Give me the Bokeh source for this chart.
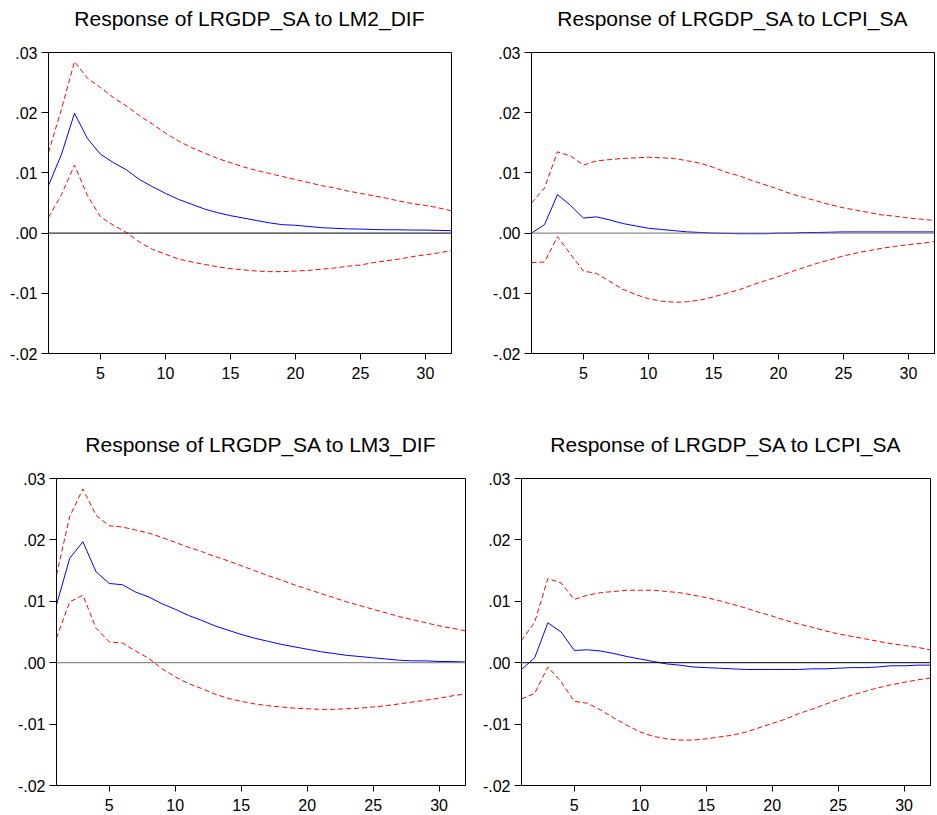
from bokeh.plotting import figure
from bokeh.layouts import column, row
from bokeh.models import FixedTicker, Span, Range1d, Title
from bokeh.embed import file_html
from bokeh.resources import INLINE

periods = list(range(1, 33))
x_start, x_end = 1, 32
y_start, y_end = -0.02, 0.03

titles = ["Response of LRGDP_SA to LM2_DIF", "Response of LRGDP_SA to LCPI_SA",
          "Response of LRGDP_SA to LM3_DIF", "Response of LRGDP_SA to LCPI_SA"]

y_ticks = [-0.02, -0.01, 0.0, 0.01, 0.02, 0.03]
y_tick_labels = ["-.02", "-.01", ".00", ".01", ".02", ".03"]
x_ticks = [5, 10, 15, 20, 25, 30]

# Panel 1: LM2_DIF
m2_resp = [0.0079, 0.0131, 0.0199, 0.0157, 0.0131, 0.0117, 0.0105, 0.0089, 0.0077, 0.0066,
           0.0056, 0.0048, 0.0040, 0.0034, 0.0029, 0.0025, 0.0021, 0.0017, 0.0014, 0.0013,
           0.0011, 0.0009, 0.0008, 0.0007, 0.00067, 0.0006, 0.00055, 0.00055, 0.0005, 0.0005,
           0.00045, 0.0004]
m2_upper = [0.0134, 0.0206, 0.0285, 0.0257, 0.0242, 0.0225, 0.0211, 0.0195, 0.0181, 0.0166,
            0.0153, 0.0142, 0.0133, 0.0124, 0.0117, 0.0110, 0.0104, 0.0099, 0.0094, 0.0089,
            0.0084, 0.0079, 0.0075, 0.0070, 0.0066, 0.0062, 0.0058, 0.0053, 0.0049, 0.0046,
            0.0042, 0.0037]
m2_lower = [0.0026, 0.0064, 0.0113, 0.0062, 0.0027, 0.0013, 0.0001, -0.0015, -0.0027, -0.0035,
            -0.0043, -0.0048, -0.0052, -0.0056, -0.0059, -0.0061, -0.0063, -0.0064, -0.0064, -0.0063,
            -0.0062, -0.0060, -0.0058, -0.0055, -0.0053, -0.0049, -0.0046, -0.0043, -0.0039, -0.0036,
            -0.0033, -0.0029]

# Panel 2: LCPI_SA (top)
cpi1_resp = [0.0000, 0.0014, 0.0064, 0.0046, 0.0025, 0.0027, 0.0022, 0.0016, 0.0012, 0.0008,
             0.0006, 0.0004, 0.0002, 0.0001, 0.0000, -0.00005, -0.0001, -0.0001, -0.0001, 0.0000,
             0.0000, 0.0001, 0.0001, 0.00015, 0.0002, 0.0002, 0.0002, 0.0002, 0.0002, 0.0002,
             0.0002, 0.0002]
cpi1_upper = [0.0050, 0.0075, 0.0135, 0.0128, 0.0113, 0.0120, 0.0122, 0.0124, 0.0125, 0.0126,
              0.0125, 0.0124, 0.0120, 0.0116, 0.0109, 0.0101, 0.0095, 0.0087, 0.0080, 0.0073,
              0.0065, 0.0059, 0.0053, 0.0047, 0.0042, 0.0038, 0.0034, 0.0030, 0.0028, 0.0025,
              0.0023, 0.0021]
cpi1_lower = [-0.0049, -0.0048, -0.0006, -0.0035, -0.0063, -0.0067, -0.0080, -0.0093, -0.0102, -0.0109,
              -0.0113, -0.0115, -0.0114, -0.0111, -0.0106, -0.0100, -0.0094, -0.0086, -0.0079, -0.0072,
              -0.0064, -0.0057, -0.0050, -0.0044, -0.0038, -0.0033, -0.0029, -0.0025, -0.0022, -0.0019,
              -0.0017, -0.0014]

# Panel 3: LM3_DIF
m3_resp = [0.0094, 0.0170, 0.0197, 0.0148, 0.0129, 0.0127, 0.0115, 0.0107, 0.0096, 0.0087,
           0.0077, 0.0069, 0.0060, 0.0053, 0.0046, 0.0040, 0.0035, 0.0030, 0.0026, 0.0022,
           0.0018, 0.0015, 0.0012, 0.0010, 0.0008, 0.0006, 0.0004, 0.0003, 0.0003, 0.0002,
           0.0002, 0.0001]
m3_upper = [0.0143, 0.0238, 0.0283, 0.0240, 0.0223, 0.0221, 0.0216, 0.0211, 0.0204, 0.0196,
            0.0188, 0.0181, 0.0173, 0.0166, 0.0158, 0.0150, 0.0142, 0.0135, 0.0127, 0.0120,
            0.0113, 0.0106, 0.0099, 0.0093, 0.0087, 0.0081, 0.0075, 0.0070, 0.0065, 0.0060,
            0.0056, 0.0052]
m3_lower = [0.0040, 0.0099, 0.0110, 0.0056, 0.0034, 0.0032, 0.0019, 0.0007, -0.0010, -0.0023,
            -0.0034, -0.0042, -0.0051, -0.0058, -0.0063, -0.0067, -0.0070, -0.0072, -0.0074, -0.0075,
            -0.0076, -0.0076, -0.0075, -0.0074, -0.0072, -0.0070, -0.0067, -0.0064, -0.0061, -0.0058,
            -0.0054, -0.0051]

# Panel 4: LCPI_SA (bottom)
cpi2_resp = [-0.0011, 0.0008, 0.0065, 0.0050, 0.0020, 0.0021, 0.0019, 0.0015, 0.0010, 0.0006,
             0.0002, -0.0002, -0.0004, -0.0007, -0.0008, -0.0009, -0.0010, -0.0011, -0.0011, -0.0011,
             -0.0011, -0.0011, -0.0010, -0.0010, -0.0009, -0.0008, -0.0008, -0.0007, -0.0005, -0.0005,
             -0.0004, -0.0004]
cpi2_upper = [0.0036, 0.0066, 0.0137, 0.0130, 0.0103, 0.0110, 0.0114, 0.0116, 0.0118, 0.0118,
              0.0118, 0.0116, 0.0114, 0.0110, 0.0106, 0.0101, 0.0095, 0.0089, 0.0082, 0.0076,
              0.0069, 0.0063, 0.0058, 0.0052, 0.0047, 0.0043, 0.0039, 0.0035, 0.0031, 0.0028,
              0.0025, 0.0021]
cpi2_lower = [-0.0059, -0.0050, -0.0007, -0.0031, -0.0063, -0.0066, -0.0077, -0.0090, -0.0102, -0.0113,
              -0.0120, -0.0124, -0.0126, -0.0126, -0.0124, -0.0121, -0.0118, -0.0113, -0.0106, -0.0099,
              -0.0092, -0.0083, -0.0076, -0.0068, -0.0060, -0.0053, -0.0047, -0.0041, -0.0036, -0.0032,
              -0.0028, -0.0025]

FONT = "Liberation Sans"


def make_panel(title, resp, upper, lower, width, height, left, right, top, bottom, zero_color):
    p = figure(width=width, height=height, output_backend="svg", toolbar_location=None,
               x_range=Range1d(x_start, x_end), y_range=Range1d(y_start, y_end),
               min_border_left=left, min_border_right=right,
               min_border_top=top, min_border_bottom=bottom)
    p.xgrid.visible = False
    p.ygrid.visible = False
    p.outline_line_color = "black"
    p.outline_line_width = 1
    p.outline_line_alpha = 1
    p.background_fill_color = "white"
    p.border_fill_color = "white"

    p.yaxis.ticker = FixedTicker(ticks=y_ticks)
    p.yaxis.major_label_overrides = {v: s for v, s in zip(y_ticks, y_tick_labels)}
    p.xaxis.ticker = FixedTicker(ticks=x_ticks)
    for ax in (p.xaxis, p.yaxis):
        ax.axis_line_color = "black"
        ax.major_tick_line_color = "black"
        ax.minor_tick_line_color = None
        ax.major_tick_in = 0
        ax.major_label_text_font = FONT
        ax.major_label_text_font_size = "16px"
        ax.major_label_text_color = "black"
    p.yaxis.major_tick_out = 7
    p.yaxis.major_label_standoff = 4
    p.xaxis.major_tick_out = 6
    p.xaxis.major_label_standoff = 7

    p.add_layout(Span(location=0, dimension="width", line_color=zero_color, line_width=1))
    p.line(periods, upper, line_color="#FF0000", line_width=1, line_dash="5 3")
    p.line(periods, lower, line_color="#FF0000", line_width=1, line_dash="5 3")
    p.line(periods, resp, line_color="#0000FF", line_width=1)

    # spacer between the frame and the title
    p.add_layout(Title(text=" ", text_font_size="1px", standoff=20), "above")
    t = Title(text=title, align="center", standoff=0, text_font=FONT,
              text_font_size="21px", text_font_style="normal", text_color="black")
    p.add_layout(t, "above")
    return p


p1 = make_panel(titles[0], m2_resp, m2_upper, m2_lower, 486, 428, 48, 35, 52, 75, "black")
p2 = make_panel(titles[1], cpi1_resp, cpi1_upper, cpi1_lower, 451, 428, 45, 3, 52, 75, "#707070")
p3 = make_panel(titles[2], m3_resp, m3_upper, m3_lower, 478, 387, 56, 13, 50, 30, "#707070")
p4 = make_panel(titles[3], cpi2_resp, cpi2_upper, cpi2_lower, 459, 387, 43, 7, 50, 30, "black")

layout = column(row(p1, p2, spacing=0), row(p3, p4, spacing=0), spacing=0)

open("out.html", "w").write(file_html(layout, INLINE))
